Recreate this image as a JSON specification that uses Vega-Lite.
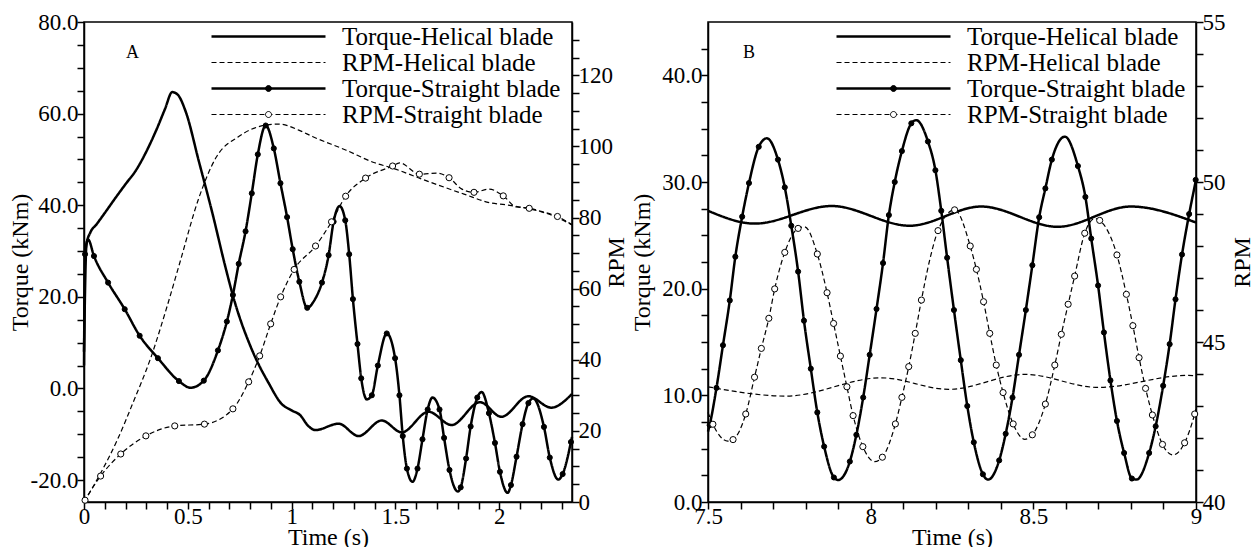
{
"$schema":"https://vega.github.io/schema/vega-lite/v6.json",
"background":"white",
"padding":{"left":7,"top":10,"right":0,"bottom":0},
"datasets":{
"lineA":[
{"t":0,"v":8,"s":"Torque-Helical blade"},{"t":0.012,"v":31.5,"s":"Torque-Helical blade"},{"t":0.03,"v":34,"s":"Torque-Helical blade"},{"t":0.06,"v":35.8,"s":"Torque-Helical blade"},{"t":0.1,"v":38.3,"s":"Torque-Helical blade"},{"t":0.15,"v":41.5,"s":"Torque-Helical blade"},{"t":0.2,"v":44.6,"s":"Torque-Helical blade"},{"t":0.25,"v":47.6,"s":"Torque-Helical blade"},{"t":0.3,"v":51.7,"s":"Torque-Helical blade"},{"t":0.35,"v":56.6,"s":"Torque-Helical blade"},{"t":0.39,"v":61,"s":"Torque-Helical blade"},{"t":0.425,"v":64.7,"s":"Torque-Helical blade"},{"t":0.45,"v":64.2,"s":"Torque-Helical blade"},{"t":0.49,"v":60.4,"s":"Torque-Helical blade"},{"t":0.553,"v":49.6,"s":"Torque-Helical blade"},{"t":0.617,"v":38.5,"s":"Torque-Helical blade"},{"t":0.681,"v":26.5,"s":"Torque-Helical blade"},{"t":0.72,"v":19.8,"s":"Torque-Helical blade"},{"t":0.81,"v":8.3,"s":"Torque-Helical blade"},{"t":0.89,"v":1.1,"s":"Torque-Helical blade"},{"t":0.95,"v":-3.3,"s":"Torque-Helical blade"},{"t":1.0,"v":-4.8,"s":"Torque-Helical blade"},{"t":1.04,"v":-5.8,"s":"Torque-Helical blade"},{"t":1.08,"v":-8.2,"s":"Torque-Helical blade"},{"t":1.114,"v":-9.1,"s":"Torque-Helical blade"},{"t":1.226,"v":-7.7,"s":"Torque-Helical blade"},{"t":1.322,"v":-10.4,"s":"Torque-Helical blade"},{"t":1.434,"v":-7.0,"s":"Torque-Helical blade"},{"t":1.53,"v":-9.6,"s":"Torque-Helical blade"},{"t":1.659,"v":-5.1,"s":"Torque-Helical blade"},{"t":1.77,"v":-8.0,"s":"Torque-Helical blade"},{"t":1.907,"v":-3.0,"s":"Torque-Helical blade"},{"t":2.01,"v":-6.2,"s":"Torque-Helical blade"},{"t":2.14,"v":-1.7,"s":"Torque-Helical blade"},{"t":2.25,"v":-4.2,"s":"Torque-Helical blade"},{"t":2.35,"v":-1.2,"s":"Torque-Helical blade"},
{"t":0,"v":5,"s":"Torque-Straight blade"},{"t":0.005,"v":29.3,"s":"Torque-Straight blade"},{"t":0.02,"v":32.5,"s":"Torque-Straight blade"},{"t":0.048,"v":28.9,"s":"Torque-Straight blade"},{"t":0.116,"v":23.1,"s":"Torque-Straight blade"},{"t":0.196,"v":17.3,"s":"Torque-Straight blade"},{"t":0.268,"v":11.5,"s":"Torque-Straight blade"},{"t":0.356,"v":6.6,"s":"Torque-Straight blade"},{"t":0.457,"v":1.6,"s":"Torque-Straight blade"},{"t":0.513,"v":0.15,"s":"Torque-Straight blade"},{"t":0.577,"v":1.7,"s":"Torque-Straight blade"},{"t":0.645,"v":8.3,"s":"Torque-Straight blade"},{"t":0.688,"v":14.6,"s":"Torque-Straight blade"},{"t":0.717,"v":20.4,"s":"Torque-Straight blade"},{"t":0.745,"v":27.2,"s":"Torque-Straight blade"},{"t":0.778,"v":34.3,"s":"Torque-Straight blade"},{"t":0.808,"v":42.6,"s":"Torque-Straight blade"},{"t":0.837,"v":51.1,"s":"Torque-Straight blade"},{"t":0.875,"v":57.4,"s":"Torque-Straight blade"},{"t":0.914,"v":52.4,"s":"Torque-Straight blade"},{"t":0.946,"v":44.8,"s":"Torque-Straight blade"},{"t":0.978,"v":37.4,"s":"Torque-Straight blade"},{"t":1.005,"v":30.4,"s":"Torque-Straight blade"},{"t":1.037,"v":23.3,"s":"Torque-Straight blade"},{"t":1.075,"v":17.6,"s":"Torque-Straight blade"},{"t":1.11,"v":19.3,"s":"Torque-Straight blade"},{"t":1.146,"v":23.1,"s":"Torque-Straight blade"},{"t":1.178,"v":29.1,"s":"Torque-Straight blade"},{"t":1.202,"v":36.4,"s":"Torque-Straight blade"},{"t":1.231,"v":39.8,"s":"Torque-Straight blade"},{"t":1.258,"v":36.7,"s":"Torque-Straight blade"},{"t":1.277,"v":29.3,"s":"Torque-Straight blade"},{"t":1.295,"v":19.5,"s":"Torque-Straight blade"},{"t":1.317,"v":9.7,"s":"Torque-Straight blade"},{"t":1.335,"v":2.2,"s":"Torque-Straight blade"},{"t":1.362,"v":-2.4,"s":"Torque-Straight blade"},{"t":1.386,"v":-1.5,"s":"Torque-Straight blade"},{"t":1.415,"v":5.0,"s":"Torque-Straight blade"},{"t":1.458,"v":12.0,"s":"Torque-Straight blade"},{"t":1.498,"v":6.6,"s":"Torque-Straight blade"},{"t":1.519,"v":-1.5,"s":"Torque-Straight blade"},{"t":1.535,"v":-10.4,"s":"Torque-Straight blade"},{"t":1.555,"v":-17.5,"s":"Torque-Straight blade"},{"t":1.582,"v":-20.4,"s":"Torque-Straight blade"},{"t":1.606,"v":-17.5,"s":"Torque-Straight blade"},{"t":1.63,"v":-11.1,"s":"Torque-Straight blade"},{"t":1.655,"v":-4.6,"s":"Torque-Straight blade"},{"t":1.678,"v":-2.0,"s":"Torque-Straight blade"},{"t":1.712,"v":-4.6,"s":"Torque-Straight blade"},{"t":1.734,"v":-10.8,"s":"Torque-Straight blade"},{"t":1.76,"v":-17.8,"s":"Torque-Straight blade"},{"t":1.8,"v":-22.5,"s":"Torque-Straight blade"},{"t":1.814,"v":-21.6,"s":"Torque-Straight blade"},{"t":1.84,"v":-15.3,"s":"Torque-Straight blade"},{"t":1.862,"v":-8.3,"s":"Torque-Straight blade"},{"t":1.894,"v":-2.0,"s":"Torque-Straight blade"},{"t":1.915,"v":-0.8,"s":"Torque-Straight blade"},{"t":1.95,"v":-5.4,"s":"Torque-Straight blade"},{"t":1.979,"v":-11.9,"s":"Torque-Straight blade"},{"t":2.003,"v":-18.2,"s":"Torque-Straight blade"},{"t":2.04,"v":-22.8,"s":"Torque-Straight blade"},{"t":2.056,"v":-21.1,"s":"Torque-Straight blade"},{"t":2.083,"v":-14.9,"s":"Torque-Straight blade"},{"t":2.112,"v":-7.8,"s":"Torque-Straight blade"},{"t":2.14,"v":-3.2,"s":"Torque-Straight blade"},{"t":2.163,"v":-2.2,"s":"Torque-Straight blade"},{"t":2.215,"v":-8.4,"s":"Torque-Straight blade"},{"t":2.243,"v":-15.1,"s":"Torque-Straight blade"},{"t":2.284,"v":-19.9,"s":"Torque-Straight blade"},{"t":2.305,"v":-18.7,"s":"Torque-Straight blade"},{"t":2.345,"v":-11.7,"s":"Torque-Straight blade"},{"t":2.35,"v":-10.6,"s":"Torque-Straight blade"},
{"t":0,"v":0,"s":"RPM-Helical blade"},{"t":0.08,"v":8.1,"s":"RPM-Helical blade"},{"t":0.16,"v":17.4,"s":"RPM-Helical blade"},{"t":0.24,"v":28.5,"s":"RPM-Helical blade"},{"t":0.32,"v":40.3,"s":"RPM-Helical blade"},{"t":0.4,"v":55,"s":"RPM-Helical blade"},{"t":0.46,"v":67,"s":"RPM-Helical blade"},{"t":0.553,"v":85.5,"s":"RPM-Helical blade"},{"t":0.635,"v":96.8,"s":"RPM-Helical blade"},{"t":0.745,"v":102.8,"s":"RPM-Helical blade"},{"t":0.875,"v":106,"s":"RPM-Helical blade"},{"t":0.94,"v":106.3,"s":"RPM-Helical blade"},{"t":1.034,"v":104.6,"s":"RPM-Helical blade"},{"t":1.1,"v":102.8,"s":"RPM-Helical blade"},{"t":1.26,"v":99,"s":"RPM-Helical blade"},{"t":1.4,"v":95.4,"s":"RPM-Helical blade"},{"t":1.48,"v":94,"s":"RPM-Helical blade"},{"t":1.66,"v":90.1,"s":"RPM-Helical blade"},{"t":1.83,"v":86.6,"s":"RPM-Helical blade"},{"t":1.96,"v":84.1,"s":"RPM-Helical blade"},{"t":2.03,"v":83.6,"s":"RPM-Helical blade"},{"t":2.125,"v":82.7,"s":"RPM-Helical blade"},{"t":2.28,"v":80.0,"s":"RPM-Helical blade"},{"t":2.35,"v":77.9,"s":"RPM-Helical blade"},
{"t":0,"v":0,"s":"RPM-Straight blade"},{"t":0.005,"v":0.5,"s":"RPM-Straight blade"},{"t":0.08,"v":7.3,"s":"RPM-Straight blade"},{"t":0.177,"v":13.5,"s":"RPM-Straight blade"},{"t":0.298,"v":18.6,"s":"RPM-Straight blade"},{"t":0.437,"v":21.4,"s":"RPM-Straight blade"},{"t":0.58,"v":21.9,"s":"RPM-Straight blade"},{"t":0.717,"v":26.2,"s":"RPM-Straight blade"},{"t":0.793,"v":33.8,"s":"RPM-Straight blade"},{"t":0.846,"v":41.1,"s":"RPM-Straight blade"},{"t":0.899,"v":50.1,"s":"RPM-Straight blade"},{"t":0.947,"v":57.7,"s":"RPM-Straight blade"},{"t":1.012,"v":65.4,"s":"RPM-Straight blade"},{"t":1.115,"v":72,"s":"RPM-Straight blade"},{"t":1.192,"v":78.8,"s":"RPM-Straight blade"},{"t":1.26,"v":86,"s":"RPM-Straight blade"},{"t":1.356,"v":91.1,"s":"RPM-Straight blade"},{"t":1.486,"v":94.5,"s":"RPM-Straight blade"},{"t":1.52,"v":95.4,"s":"RPM-Straight blade"},{"t":1.615,"v":92.2,"s":"RPM-Straight blade"},{"t":1.7,"v":92.5,"s":"RPM-Straight blade"},{"t":1.758,"v":91.2,"s":"RPM-Straight blade"},{"t":1.82,"v":88.0,"s":"RPM-Straight blade"},{"t":1.878,"v":87.1,"s":"RPM-Straight blade"},{"t":1.95,"v":88.0,"s":"RPM-Straight blade"},{"t":2.019,"v":86.1,"s":"RPM-Straight blade"},{"t":2.08,"v":83.0,"s":"RPM-Straight blade"},{"t":2.144,"v":82.6,"s":"RPM-Straight blade"},{"t":2.21,"v":81.6,"s":"RPM-Straight blade"},{"t":2.28,"v":80.3,"s":"RPM-Straight blade"},{"t":2.35,"v":78.0,"s":"RPM-Straight blade"}
],
"markA":[
{"t":0.005,"v":29.3,"m":"Torque-Straight"},{"t":0.048,"v":28.9,"m":"Torque-Straight"},{"t":0.116,"v":23.1,"m":"Torque-Straight"},{"t":0.196,"v":17.3,"m":"Torque-Straight"},{"t":0.268,"v":11.5,"m":"Torque-Straight"},{"t":0.356,"v":6.6,"m":"Torque-Straight"},{"t":0.457,"v":1.6,"m":"Torque-Straight"},{"t":0.577,"v":1.7,"m":"Torque-Straight"},{"t":0.645,"v":8.3,"m":"Torque-Straight"},{"t":0.688,"v":14.6,"m":"Torque-Straight"},{"t":0.717,"v":20.4,"m":"Torque-Straight"},{"t":0.745,"v":27.2,"m":"Torque-Straight"},{"t":0.778,"v":34.3,"m":"Torque-Straight"},{"t":0.808,"v":42.6,"m":"Torque-Straight"},{"t":0.837,"v":51.1,"m":"Torque-Straight"},{"t":0.875,"v":57.4,"m":"Torque-Straight"},{"t":0.914,"v":52.4,"m":"Torque-Straight"},{"t":0.946,"v":44.8,"m":"Torque-Straight"},{"t":0.978,"v":37.4,"m":"Torque-Straight"},{"t":1.005,"v":30.4,"m":"Torque-Straight"},{"t":1.037,"v":23.3,"m":"Torque-Straight"},{"t":1.075,"v":17.6,"m":"Torque-Straight"},{"t":1.146,"v":23.1,"m":"Torque-Straight"},{"t":1.178,"v":29.1,"m":"Torque-Straight"},{"t":1.202,"v":36.4,"m":"Torque-Straight"},{"t":1.258,"v":36.7,"m":"Torque-Straight"},{"t":1.277,"v":29.3,"m":"Torque-Straight"},{"t":1.295,"v":19.5,"m":"Torque-Straight"},{"t":1.317,"v":9.7,"m":"Torque-Straight"},{"t":1.335,"v":2.2,"m":"Torque-Straight"},{"t":1.386,"v":-1.5,"m":"Torque-Straight"},{"t":1.415,"v":5.0,"m":"Torque-Straight"},{"t":1.458,"v":12.0,"m":"Torque-Straight"},{"t":1.498,"v":6.6,"m":"Torque-Straight"},{"t":1.519,"v":-1.5,"m":"Torque-Straight"},{"t":1.535,"v":-10.4,"m":"Torque-Straight"},{"t":1.555,"v":-17.5,"m":"Torque-Straight"},{"t":1.606,"v":-17.5,"m":"Torque-Straight"},{"t":1.63,"v":-11.1,"m":"Torque-Straight"},{"t":1.655,"v":-4.6,"m":"Torque-Straight"},{"t":1.712,"v":-4.6,"m":"Torque-Straight"},{"t":1.734,"v":-10.8,"m":"Torque-Straight"},{"t":1.76,"v":-17.8,"m":"Torque-Straight"},{"t":1.814,"v":-21.6,"m":"Torque-Straight"},{"t":1.84,"v":-15.3,"m":"Torque-Straight"},{"t":1.862,"v":-8.3,"m":"Torque-Straight"},{"t":1.894,"v":-2.0,"m":"Torque-Straight"},{"t":1.95,"v":-5.4,"m":"Torque-Straight"},{"t":1.979,"v":-11.9,"m":"Torque-Straight"},{"t":2.003,"v":-18.2,"m":"Torque-Straight"},{"t":2.056,"v":-21.1,"m":"Torque-Straight"},{"t":2.083,"v":-14.9,"m":"Torque-Straight"},{"t":2.112,"v":-7.8,"m":"Torque-Straight"},{"t":2.14,"v":-3.2,"m":"Torque-Straight"},{"t":2.215,"v":-8.4,"m":"Torque-Straight"},{"t":2.243,"v":-15.1,"m":"Torque-Straight"},{"t":2.305,"v":-18.7,"m":"Torque-Straight"},{"t":2.345,"v":-11.7,"m":"Torque-Straight"},
{"t":0.005,"v":0.5,"m":"RPM-Straight"},{"t":0.08,"v":7.3,"m":"RPM-Straight"},{"t":0.177,"v":13.5,"m":"RPM-Straight"},{"t":0.298,"v":18.6,"m":"RPM-Straight"},{"t":0.437,"v":21.4,"m":"RPM-Straight"},{"t":0.58,"v":21.9,"m":"RPM-Straight"},{"t":0.717,"v":26.2,"m":"RPM-Straight"},{"t":0.793,"v":33.8,"m":"RPM-Straight"},{"t":0.846,"v":41.1,"m":"RPM-Straight"},{"t":0.899,"v":50.1,"m":"RPM-Straight"},{"t":0.947,"v":57.7,"m":"RPM-Straight"},{"t":1.012,"v":65.4,"m":"RPM-Straight"},{"t":1.115,"v":72,"m":"RPM-Straight"},{"t":1.192,"v":78.8,"m":"RPM-Straight"},{"t":1.26,"v":86,"m":"RPM-Straight"},{"t":1.356,"v":91.1,"m":"RPM-Straight"},{"t":1.486,"v":94.5,"m":"RPM-Straight"},{"t":1.615,"v":92.2,"m":"RPM-Straight"},{"t":1.758,"v":91.2,"m":"RPM-Straight"},{"t":1.878,"v":87.1,"m":"RPM-Straight"},{"t":2.019,"v":86.1,"m":"RPM-Straight"},{"t":2.144,"v":82.6,"m":"RPM-Straight"},{"t":2.28,"v":80.3,"m":"RPM-Straight"}
],
"lineB":[
{"t":7.5,"v":27.3,"s":"Torque-Helical blade"},{"t":7.644,"v":26.1,"s":"Torque-Helical blade"},{"t":7.88,"v":27.75,"s":"Torque-Helical blade"},{"t":8.12,"v":25.9,"s":"Torque-Helical blade"},{"t":8.34,"v":27.7,"s":"Torque-Helical blade"},{"t":8.575,"v":25.8,"s":"Torque-Helical blade"},{"t":8.8,"v":27.7,"s":"Torque-Helical blade"},{"t":9.0,"v":26.2,"s":"Torque-Helical blade"},
{"t":7.5,"v":43.6,"s":"RPM-Helical blade"},{"t":7.74,"v":43.31,"s":"RPM-Helical blade"},{"t":8.033,"v":43.88,"s":"RPM-Helical blade"},{"t":8.24,"v":43.52,"s":"RPM-Helical blade"},{"t":8.474,"v":43.99,"s":"RPM-Helical blade"},{"t":8.699,"v":43.58,"s":"RPM-Helical blade"},{"t":8.976,"v":43.96,"s":"RPM-Helical blade"},{"t":9.0,"v":43.94,"s":"RPM-Helical blade"},
{"t":7.5,"v":6.6,"s":"Torque-Straight blade"},{"t":7.505,"v":7.2,"s":"Torque-Straight blade"},{"t":7.526,"v":10.7,"s":"Torque-Straight blade"},{"t":7.546,"v":14.7,"s":"Torque-Straight blade"},{"t":7.567,"v":18.9,"s":"Torque-Straight blade"},{"t":7.584,"v":23.0,"s":"Torque-Straight blade"},{"t":7.605,"v":26.75,"s":"Torque-Straight blade"},{"t":7.626,"v":29.9,"s":"Torque-Straight blade"},{"t":7.656,"v":33.3,"s":"Torque-Straight blade"},{"t":7.681,"v":34.1,"s":"Torque-Straight blade"},{"t":7.715,"v":32.1,"s":"Torque-Straight blade"},{"t":7.736,"v":29.5,"s":"Torque-Straight blade"},{"t":7.756,"v":25.9,"s":"Torque-Straight blade"},{"t":7.777,"v":21.6,"s":"Torque-Straight blade"},{"t":7.795,"v":17.0,"s":"Torque-Straight blade"},{"t":7.816,"v":12.5,"s":"Torque-Straight blade"},{"t":7.836,"v":8.4,"s":"Torque-Straight blade"},{"t":7.857,"v":5.2,"s":"Torque-Straight blade"},{"t":7.887,"v":2.3,"s":"Torque-Straight blade"},{"t":7.9,"v":2.06,"s":"Torque-Straight blade"},{"t":7.936,"v":3.8,"s":"Torque-Straight blade"},{"t":7.956,"v":6.3,"s":"Torque-Straight blade"},{"t":7.977,"v":9.8,"s":"Torque-Straight blade"},{"t":7.997,"v":13.8,"s":"Torque-Straight blade"},{"t":8.018,"v":18.1,"s":"Torque-Straight blade"},{"t":8.038,"v":22.4,"s":"Torque-Straight blade"},{"t":8.056,"v":26.9,"s":"Torque-Straight blade"},{"t":8.074,"v":30.0,"s":"Torque-Straight blade"},{"t":8.096,"v":32.9,"s":"Torque-Straight blade"},{"t":8.125,"v":35.5,"s":"Torque-Straight blade"},{"t":8.14,"v":35.8,"s":"Torque-Straight blade"},{"t":8.176,"v":33.8,"s":"Torque-Straight blade"},{"t":8.199,"v":31.1,"s":"Torque-Straight blade"},{"t":8.217,"v":27.3,"s":"Torque-Straight blade"},{"t":8.235,"v":22.9,"s":"Torque-Straight blade"},{"t":8.256,"v":18.0,"s":"Torque-Straight blade"},{"t":8.277,"v":13.3,"s":"Torque-Straight blade"},{"t":8.297,"v":9.0,"s":"Torque-Straight blade"},{"t":8.317,"v":5.6,"s":"Torque-Straight blade"},{"t":8.345,"v":2.6,"s":"Torque-Straight blade"},{"t":8.361,"v":2.1,"s":"Torque-Straight blade"},{"t":8.395,"v":3.9,"s":"Torque-Straight blade"},{"t":8.415,"v":6.4,"s":"Torque-Straight blade"},{"t":8.436,"v":9.8,"s":"Torque-Straight blade"},{"t":8.456,"v":13.8,"s":"Torque-Straight blade"},{"t":8.477,"v":18.0,"s":"Torque-Straight blade"},{"t":8.497,"v":22.2,"s":"Torque-Straight blade"},{"t":8.518,"v":26.7,"s":"Torque-Straight blade"},{"t":8.537,"v":29.4,"s":"Torque-Straight blade"},{"t":8.557,"v":32.1,"s":"Torque-Straight blade"},{"t":8.597,"v":34.25,"s":"Torque-Straight blade"},{"t":8.637,"v":31.5,"s":"Torque-Straight blade"},{"t":8.66,"v":28.6,"s":"Torque-Straight blade"},{"t":8.678,"v":24.7,"s":"Torque-Straight blade"},{"t":8.699,"v":20.3,"s":"Torque-Straight blade"},{"t":8.717,"v":15.9,"s":"Torque-Straight blade"},{"t":8.737,"v":11.4,"s":"Torque-Straight blade"},{"t":8.757,"v":7.6,"s":"Torque-Straight blade"},{"t":8.779,"v":4.6,"s":"Torque-Straight blade"},{"t":8.803,"v":2.2,"s":"Torque-Straight blade"},{"t":8.817,"v":2.1,"s":"Torque-Straight blade"},{"t":8.856,"v":4.6,"s":"Torque-Straight blade"},{"t":8.876,"v":7.1,"s":"Torque-Straight blade"},{"t":8.899,"v":10.9,"s":"Torque-Straight blade"},{"t":8.919,"v":14.8,"s":"Torque-Straight blade"},{"t":8.937,"v":19.0,"s":"Torque-Straight blade"},{"t":8.957,"v":23.2,"s":"Torque-Straight blade"},{"t":8.979,"v":27.0,"s":"Torque-Straight blade"},{"t":9.0,"v":30.2,"s":"Torque-Straight blade"},
{"t":7.5,"v":42.8,"s":"RPM-Straight blade"},{"t":7.515,"v":42.43,"s":"RPM-Straight blade"},{"t":7.561,"v":41.9,"s":"RPM-Straight blade"},{"t":7.577,"v":41.95,"s":"RPM-Straight blade"},{"t":7.616,"v":42.75,"s":"RPM-Straight blade"},{"t":7.643,"v":43.9,"s":"RPM-Straight blade"},{"t":7.664,"v":44.8,"s":"RPM-Straight blade"},{"t":7.687,"v":45.74,"s":"RPM-Straight blade"},{"t":7.705,"v":46.66,"s":"RPM-Straight blade"},{"t":7.736,"v":47.8,"s":"RPM-Straight blade"},{"t":7.777,"v":48.55,"s":"RPM-Straight blade"},{"t":7.797,"v":48.6,"s":"RPM-Straight blade"},{"t":7.836,"v":47.75,"s":"RPM-Straight blade"},{"t":7.866,"v":46.54,"s":"RPM-Straight blade"},{"t":7.886,"v":45.58,"s":"RPM-Straight blade"},{"t":7.907,"v":44.56,"s":"RPM-Straight blade"},{"t":7.927,"v":43.6,"s":"RPM-Straight blade"},{"t":7.946,"v":42.7,"s":"RPM-Straight blade"},{"t":7.976,"v":41.73,"s":"RPM-Straight blade"},{"t":8.012,"v":41.26,"s":"RPM-Straight blade"},{"t":8.036,"v":41.4,"s":"RPM-Straight blade"},{"t":8.076,"v":42.44,"s":"RPM-Straight blade"},{"t":8.096,"v":43.27,"s":"RPM-Straight blade"},{"t":8.117,"v":44.23,"s":"RPM-Straight blade"},{"t":8.137,"v":45.27,"s":"RPM-Straight blade"},{"t":8.156,"v":46.31,"s":"RPM-Straight blade"},{"t":8.18,"v":47.5,"s":"RPM-Straight blade"},{"t":8.207,"v":48.48,"s":"RPM-Straight blade"},{"t":8.258,"v":49.13,"s":"RPM-Straight blade"},{"t":8.306,"v":48.0,"s":"RPM-Straight blade"},{"t":8.325,"v":47.27,"s":"RPM-Straight blade"},{"t":8.347,"v":46.26,"s":"RPM-Straight blade"},{"t":8.366,"v":45.27,"s":"RPM-Straight blade"},{"t":8.386,"v":44.28,"s":"RPM-Straight blade"},{"t":8.407,"v":43.42,"s":"RPM-Straight blade"},{"t":8.438,"v":42.44,"s":"RPM-Straight blade"},{"t":8.474,"v":41.96,"s":"RPM-Straight blade"},{"t":8.497,"v":42.1,"s":"RPM-Straight blade"},{"t":8.537,"v":43.06,"s":"RPM-Straight blade"},{"t":8.566,"v":44.28,"s":"RPM-Straight blade"},{"t":8.586,"v":45.24,"s":"RPM-Straight blade"},{"t":8.607,"v":46.18,"s":"RPM-Straight blade"},{"t":8.627,"v":47.06,"s":"RPM-Straight blade"},{"t":8.658,"v":48.4,"s":"RPM-Straight blade"},{"t":8.69,"v":48.86,"s":"RPM-Straight blade"},{"t":8.704,"v":48.8,"s":"RPM-Straight blade"},{"t":8.757,"v":47.72,"s":"RPM-Straight blade"},{"t":8.786,"v":46.49,"s":"RPM-Straight blade"},{"t":8.806,"v":45.51,"s":"RPM-Straight blade"},{"t":8.825,"v":44.51,"s":"RPM-Straight blade"},{"t":8.845,"v":43.55,"s":"RPM-Straight blade"},{"t":8.866,"v":42.72,"s":"RPM-Straight blade"},{"t":8.897,"v":41.8,"s":"RPM-Straight blade"},{"t":8.929,"v":41.47,"s":"RPM-Straight blade"},{"t":8.965,"v":41.85,"s":"RPM-Straight blade"},{"t":8.996,"v":42.75,"s":"RPM-Straight blade"},{"t":9.0,"v":42.9,"s":"RPM-Straight blade"}
],
"markB":[
{"t":7.505,"v":7.2,"m":"Torque-Straight"},{"t":7.526,"v":10.7,"m":"Torque-Straight"},{"t":7.546,"v":14.7,"m":"Torque-Straight"},{"t":7.567,"v":18.9,"m":"Torque-Straight"},{"t":7.584,"v":23.0,"m":"Torque-Straight"},{"t":7.605,"v":26.75,"m":"Torque-Straight"},{"t":7.626,"v":29.9,"m":"Torque-Straight"},{"t":7.656,"v":33.3,"m":"Torque-Straight"},{"t":7.715,"v":32.1,"m":"Torque-Straight"},{"t":7.736,"v":29.5,"m":"Torque-Straight"},{"t":7.756,"v":25.9,"m":"Torque-Straight"},{"t":7.777,"v":21.6,"m":"Torque-Straight"},{"t":7.795,"v":17.0,"m":"Torque-Straight"},{"t":7.816,"v":12.5,"m":"Torque-Straight"},{"t":7.836,"v":8.4,"m":"Torque-Straight"},{"t":7.857,"v":5.2,"m":"Torque-Straight"},{"t":7.887,"v":2.3,"m":"Torque-Straight"},{"t":7.936,"v":3.8,"m":"Torque-Straight"},{"t":7.956,"v":6.3,"m":"Torque-Straight"},{"t":7.977,"v":9.8,"m":"Torque-Straight"},{"t":7.997,"v":13.8,"m":"Torque-Straight"},{"t":8.018,"v":18.1,"m":"Torque-Straight"},{"t":8.038,"v":22.4,"m":"Torque-Straight"},{"t":8.056,"v":26.9,"m":"Torque-Straight"},{"t":8.074,"v":30.0,"m":"Torque-Straight"},{"t":8.096,"v":32.9,"m":"Torque-Straight"},{"t":8.125,"v":35.5,"m":"Torque-Straight"},{"t":8.176,"v":33.8,"m":"Torque-Straight"},{"t":8.199,"v":31.1,"m":"Torque-Straight"},{"t":8.217,"v":27.3,"m":"Torque-Straight"},{"t":8.235,"v":22.9,"m":"Torque-Straight"},{"t":8.256,"v":18.0,"m":"Torque-Straight"},{"t":8.277,"v":13.3,"m":"Torque-Straight"},{"t":8.297,"v":9.0,"m":"Torque-Straight"},{"t":8.317,"v":5.6,"m":"Torque-Straight"},{"t":8.345,"v":2.6,"m":"Torque-Straight"},{"t":8.395,"v":3.9,"m":"Torque-Straight"},{"t":8.415,"v":6.4,"m":"Torque-Straight"},{"t":8.436,"v":9.8,"m":"Torque-Straight"},{"t":8.456,"v":13.8,"m":"Torque-Straight"},{"t":8.477,"v":18.0,"m":"Torque-Straight"},{"t":8.497,"v":22.2,"m":"Torque-Straight"},{"t":8.518,"v":26.7,"m":"Torque-Straight"},{"t":8.537,"v":29.4,"m":"Torque-Straight"},{"t":8.557,"v":32.1,"m":"Torque-Straight"},{"t":8.637,"v":31.5,"m":"Torque-Straight"},{"t":8.66,"v":28.6,"m":"Torque-Straight"},{"t":8.678,"v":24.7,"m":"Torque-Straight"},{"t":8.699,"v":20.3,"m":"Torque-Straight"},{"t":8.717,"v":15.9,"m":"Torque-Straight"},{"t":8.737,"v":11.4,"m":"Torque-Straight"},{"t":8.757,"v":7.6,"m":"Torque-Straight"},{"t":8.779,"v":4.6,"m":"Torque-Straight"},{"t":8.803,"v":2.2,"m":"Torque-Straight"},{"t":8.856,"v":4.6,"m":"Torque-Straight"},{"t":8.876,"v":7.1,"m":"Torque-Straight"},{"t":8.899,"v":10.9,"m":"Torque-Straight"},{"t":8.919,"v":14.8,"m":"Torque-Straight"},{"t":8.937,"v":19.0,"m":"Torque-Straight"},{"t":8.957,"v":23.2,"m":"Torque-Straight"},{"t":8.979,"v":27.0,"m":"Torque-Straight"},{"t":8.999,"v":30.2,"m":"Torque-Straight"},
{"t":7.515,"v":42.43,"m":"RPM-Straight"},{"t":7.577,"v":41.95,"m":"RPM-Straight"},{"t":7.616,"v":42.75,"m":"RPM-Straight"},{"t":7.643,"v":43.9,"m":"RPM-Straight"},{"t":7.664,"v":44.8,"m":"RPM-Straight"},{"t":7.687,"v":45.74,"m":"RPM-Straight"},{"t":7.705,"v":46.66,"m":"RPM-Straight"},{"t":7.736,"v":47.8,"m":"RPM-Straight"},{"t":7.777,"v":48.55,"m":"RPM-Straight"},{"t":7.836,"v":47.75,"m":"RPM-Straight"},{"t":7.866,"v":46.54,"m":"RPM-Straight"},{"t":7.886,"v":45.58,"m":"RPM-Straight"},{"t":7.907,"v":44.56,"m":"RPM-Straight"},{"t":7.927,"v":43.6,"m":"RPM-Straight"},{"t":7.946,"v":42.7,"m":"RPM-Straight"},{"t":7.976,"v":41.73,"m":"RPM-Straight"},{"t":8.036,"v":41.4,"m":"RPM-Straight"},{"t":8.076,"v":42.44,"m":"RPM-Straight"},{"t":8.096,"v":43.27,"m":"RPM-Straight"},{"t":8.117,"v":44.23,"m":"RPM-Straight"},{"t":8.137,"v":45.27,"m":"RPM-Straight"},{"t":8.156,"v":46.31,"m":"RPM-Straight"},{"t":8.207,"v":48.48,"m":"RPM-Straight"},{"t":8.258,"v":49.13,"m":"RPM-Straight"},{"t":8.306,"v":48.0,"m":"RPM-Straight"},{"t":8.325,"v":47.27,"m":"RPM-Straight"},{"t":8.347,"v":46.26,"m":"RPM-Straight"},{"t":8.366,"v":45.27,"m":"RPM-Straight"},{"t":8.386,"v":44.28,"m":"RPM-Straight"},{"t":8.407,"v":43.42,"m":"RPM-Straight"},{"t":8.438,"v":42.44,"m":"RPM-Straight"},{"t":8.497,"v":42.1,"m":"RPM-Straight"},{"t":8.537,"v":43.06,"m":"RPM-Straight"},{"t":8.566,"v":44.28,"m":"RPM-Straight"},{"t":8.586,"v":45.24,"m":"RPM-Straight"},{"t":8.607,"v":46.18,"m":"RPM-Straight"},{"t":8.627,"v":47.06,"m":"RPM-Straight"},{"t":8.658,"v":48.4,"m":"RPM-Straight"},{"t":8.704,"v":48.8,"m":"RPM-Straight"},{"t":8.757,"v":47.72,"m":"RPM-Straight"},{"t":8.786,"v":46.49,"m":"RPM-Straight"},{"t":8.806,"v":45.51,"m":"RPM-Straight"},{"t":8.825,"v":44.51,"m":"RPM-Straight"},{"t":8.845,"v":43.55,"m":"RPM-Straight"},{"t":8.866,"v":42.72,"m":"RPM-Straight"},{"t":8.897,"v":41.8,"m":"RPM-Straight"},{"t":8.965,"v":41.85,"m":"RPM-Straight"},{"t":8.996,"v":42.75,"m":"RPM-Straight"}
]
},
"hconcat":[
{
"width":488,"height":480,
"title":{"text":"A","anchor":"start","frame":"group","offset":-51,"dx":42,"fontSize":18,"font":"Liberation Serif","fontWeight":"normal","color":"black"},
"encoding":{"x":{"field":"t","type":"quantitative","title":"Time (s)","scale":{"domain":[0,2.35],"nice":false,"zero":false},
 "axis":{"orient":"bottom","values":[0,0.1,0.2,0.3,0.4,0.5,0.6,0.7,0.8,0.9,1,1.1,1.2,1.3,1.4,1.5,1.6,1.7,1.8,1.9,2,2.1,2.2,2.3],"format":"~g","labelExpr":"abs(datum.value*2-round(datum.value*2))<0.001 ? datum.label : ''","ticks":true,"tickSize":7,"labelPadding":-4,"titlePadding":-3,
 "encode":{"ticks":{"update":{"y2":{"signal":"abs(datum.value*2-round(datum.value*2))<0.001 ? -12 : -7"}}}}}}},
"layer":[
{"encoding":{"y":{"field":"v","type":"quantitative","title":"Torque (kNm)","scale":{"domain":[-24.8,80],"nice":false,"zero":false},
 "axis":{"orient":"left","values":[-20,-15,-10,-5,0,5,10,15,20,25,30,35,40,45,50,55,60,65,70,75,80],"format":".1f","labelExpr":"datum.value % 20 == 0 ? replace(datum.label, '\u2212', '-') : ''","ticks":true,"tickSize":7,"labelPadding":-1,"titlePadding":-2,
 "encode":{"ticks":{"update":{"x2":{"signal":"datum.value % 20 == 0 ? 12 : 7"}}}}}}},
 "layer":[
  {"data":{"name":"lineA"},"transform":[{"filter":"indexof(datum.s,'Torque')==0"}],"mark":{"type":"line","color":"black","interpolate":"monotone"},
   "encoding":{"strokeDash":{"field":"s","type":"nominal","scale":{"domain":["Torque-Helical blade","RPM-Helical blade","Torque-Straight blade","RPM-Straight blade"],"range":[[1,0],[5,3],[1,0],[5,3]]},"legend":{"orient":"none","legendX":125,"legendY":2,"title":null,"symbolType":"M-1,0H10.4","symbolSize":400,"labelFont":"Liberation Serif","labelFontSize":25,"labelColor":"black","labelOffset":108,"rowPadding":0,"padding":0,"labelLimit":400}},
    "strokeWidth":{"field":"s","type":"nominal","scale":{"type":"ordinal","domain":["Torque-Helical blade","RPM-Helical blade","Torque-Straight blade","RPM-Straight blade"],"range":[2.5,1.2,2.5,1.2]},"legend":{"orient":"none","legendX":125,"legendY":2,"title":null,"symbolType":"M-1,0H10.4","symbolSize":400,"labelFont":"Liberation Serif","labelFontSize":25,"labelColor":"black","labelOffset":108,"rowPadding":0,"padding":0,"labelLimit":400}}}},
  {"data":{"name":"markA"},"transform":[{"filter":"datum.m=='Torque-Straight'"}],"mark":{"type":"point","shape":"circle","size":26,"opacity":1,"strokeWidth":1},
   "encoding":{"fill":{"field":"m","type":"nominal","scale":{"domain":["Torque-Helical","RPM-Helical","Torque-Straight","RPM-Straight"],"range":["transparent","transparent","black","white"]},"legend":{"orient":"none","legendX":125,"legendY":2,"title":null,"symbolType":"M5,0A0.3,0.3,0,1,1,4.4,0A0.3,0.3,0,1,1,5,0Z","symbolSize":400,"symbolStrokeWidth":1,"labelFont":"Liberation Serif","labelFontSize":25,"labelExpr":"' '","labelOpacity":0,"labelOffset":90,"rowPadding":0,"padding":0,"labelLimit":400}},
    "stroke":{"field":"m","type":"nominal","scale":{"domain":["Torque-Helical","RPM-Helical","Torque-Straight","RPM-Straight"],"range":["transparent","transparent","black","black"]},"legend":{"orient":"none","legendX":125,"legendY":2,"title":null,"symbolType":"M5,0A0.3,0.3,0,1,1,4.4,0A0.3,0.3,0,1,1,5,0Z","symbolSize":400,"symbolStrokeWidth":1,"labelFont":"Liberation Serif","labelFontSize":25,"labelExpr":"' '","labelOpacity":0,"labelOffset":90,"rowPadding":0,"padding":0,"labelLimit":400}}}}
 ]},
{"encoding":{"y":{"field":"v","type":"quantitative","title":"RPM","scale":{"domain":[0,135],"nice":false,"zero":false},
 "axis":{"orient":"right","values":[0,5,10,15,20,25,30,35,40,45,50,55,60,65,70,75,80,85,90,95,100,105,110,115,120,125,130],"format":"d","labelExpr":"datum.value % 20 == 0 ? datum.label : ''","ticks":true,"tickSize":7,"labelPadding":-1,"titlePadding":-8,"titleAngle":270,"titleBaseline":"top",
 "encode":{"ticks":{"update":{"x2":{"signal":"datum.value % 20 == 0 ? -12 : -7"}}}}}}},
 "layer":[
  {"data":{"name":"lineA"},"transform":[{"filter":"indexof(datum.s,'RPM')==0"}],"mark":{"type":"line","color":"black","interpolate":"monotone"},
   "encoding":{"strokeDash":{"field":"s","type":"nominal","scale":{"domain":["Torque-Helical blade","RPM-Helical blade","Torque-Straight blade","RPM-Straight blade"],"range":[[1,0],[5,3],[1,0],[5,3]]},"legend":{"orient":"none","legendX":125,"legendY":2,"title":null,"symbolType":"M-1,0H10.4","symbolSize":400,"labelFont":"Liberation Serif","labelFontSize":25,"labelColor":"black","labelOffset":108,"rowPadding":0,"padding":0,"labelLimit":400}},
    "strokeWidth":{"field":"s","type":"nominal","scale":{"type":"ordinal","domain":["Torque-Helical blade","RPM-Helical blade","Torque-Straight blade","RPM-Straight blade"],"range":[2.5,1.2,2.5,1.2]},"legend":{"orient":"none","legendX":125,"legendY":2,"title":null,"symbolType":"M-1,0H10.4","symbolSize":400,"labelFont":"Liberation Serif","labelFontSize":25,"labelColor":"black","labelOffset":108,"rowPadding":0,"padding":0,"labelLimit":400}}}},
  {"data":{"name":"markA"},"transform":[{"filter":"datum.m=='RPM-Straight'"}],"mark":{"type":"point","shape":"circle","size":38,"opacity":1,"strokeWidth":1},
   "encoding":{"fill":{"field":"m","type":"nominal","scale":{"domain":["Torque-Helical","RPM-Helical","Torque-Straight","RPM-Straight"],"range":["transparent","transparent","black","white"]},"legend":{"orient":"none","legendX":125,"legendY":2,"title":null,"symbolType":"M5,0A0.3,0.3,0,1,1,4.4,0A0.3,0.3,0,1,1,5,0Z","symbolSize":400,"symbolStrokeWidth":1,"labelFont":"Liberation Serif","labelFontSize":25,"labelExpr":"' '","labelOpacity":0,"labelOffset":90,"rowPadding":0,"padding":0,"labelLimit":400}},
    "stroke":{"field":"m","type":"nominal","scale":{"domain":["Torque-Helical","RPM-Helical","Torque-Straight","RPM-Straight"],"range":["transparent","transparent","black","black"]},"legend":{"orient":"none","legendX":125,"legendY":2,"title":null,"symbolType":"M5,0A0.3,0.3,0,1,1,4.4,0A0.3,0.3,0,1,1,5,0Z","symbolSize":400,"symbolStrokeWidth":1,"labelFont":"Liberation Serif","labelFontSize":25,"labelExpr":"' '","labelOpacity":0,"labelOffset":90,"rowPadding":0,"padding":0,"labelLimit":400}}}}
 ]}
],
"resolve":{"scale":{"y":"independent"}}
},
{
"width":488,"height":480,
"title":{"text":"B","anchor":"start","frame":"group","offset":-51,"dx":35,"fontSize":18,"font":"Liberation Serif","fontWeight":"normal","color":"black"},
"encoding":{"x":{"field":"t","type":"quantitative","title":"Time (s)","scale":{"domain":[7.5,9],"nice":false,"zero":false},
 "axis":{"orient":"bottom","values":[7.5,7.6,7.7,7.8,7.9,8,8.1,8.2,8.3,8.4,8.5,8.6,8.7,8.8,8.9,9],"format":"~g","labelExpr":"abs(datum.value*2-round(datum.value*2))<0.001 ? datum.label : ''","ticks":true,"tickSize":7,"labelPadding":-4,"titlePadding":-3,
 "encode":{"ticks":{"update":{"y2":{"signal":"abs(datum.value*2-round(datum.value*2))<0.001 ? -12 : -7"}}}}}}},
"layer":[
{"encoding":{"y":{"field":"v","type":"quantitative","title":"Torque (kNm)","scale":{"domain":[0,45],"nice":false,"zero":false},
 "axis":{"orient":"left","values":[0,2.5,5,7.5,10,12.5,15,17.5,20,22.5,25,27.5,30,32.5,35,37.5,40,42.5],"format":".1f","labelExpr":"datum.value % 10 == 0 ? datum.label : ''","ticks":true,"tickSize":7,"labelPadding":-1,"titlePadding":7,
 "encode":{"ticks":{"update":{"x2":{"signal":"datum.value % 10 == 0 ? 12 : 7"}}}}}}},
 "layer":[
  {"data":{"name":"lineB"},"transform":[{"filter":"indexof(datum.s,'Torque')==0"}],"mark":{"type":"line","color":"black","interpolate":"monotone"},
   "encoding":{"strokeDash":{"field":"s","type":"nominal","scale":{"domain":["Torque-Helical blade","RPM-Helical blade","Torque-Straight blade","RPM-Straight blade"],"range":[[1,0],[5,3],[1,0],[5,3]]},"legend":{"orient":"none","legendX":126,"legendY":2,"title":null,"symbolType":"M-1,0H10.4","symbolSize":400,"labelFont":"Liberation Serif","labelFontSize":25,"labelColor":"black","labelOffset":108,"rowPadding":0,"padding":0,"labelLimit":400}},
    "strokeWidth":{"field":"s","type":"nominal","scale":{"type":"ordinal","domain":["Torque-Helical blade","RPM-Helical blade","Torque-Straight blade","RPM-Straight blade"],"range":[2.5,1.2,2.5,1.2]},"legend":{"orient":"none","legendX":126,"legendY":2,"title":null,"symbolType":"M-1,0H10.4","symbolSize":400,"labelFont":"Liberation Serif","labelFontSize":25,"labelColor":"black","labelOffset":108,"rowPadding":0,"padding":0,"labelLimit":400}}}},
  {"data":{"name":"markB"},"transform":[{"filter":"datum.m=='Torque-Straight'"}],"mark":{"type":"point","shape":"circle","size":26,"opacity":1,"strokeWidth":1},
   "encoding":{"fill":{"field":"m","type":"nominal","scale":{"domain":["Torque-Helical","RPM-Helical","Torque-Straight","RPM-Straight"],"range":["transparent","transparent","black","white"]},"legend":{"orient":"none","legendX":126,"legendY":2,"title":null,"symbolType":"M5,0A0.3,0.3,0,1,1,4.4,0A0.3,0.3,0,1,1,5,0Z","symbolSize":400,"symbolStrokeWidth":1,"labelFont":"Liberation Serif","labelFontSize":25,"labelExpr":"' '","labelOpacity":0,"labelOffset":90,"rowPadding":0,"padding":0,"labelLimit":400}},
    "stroke":{"field":"m","type":"nominal","scale":{"domain":["Torque-Helical","RPM-Helical","Torque-Straight","RPM-Straight"],"range":["transparent","transparent","black","black"]},"legend":{"orient":"none","legendX":126,"legendY":2,"title":null,"symbolType":"M5,0A0.3,0.3,0,1,1,4.4,0A0.3,0.3,0,1,1,5,0Z","symbolSize":400,"symbolStrokeWidth":1,"labelFont":"Liberation Serif","labelFontSize":25,"labelExpr":"' '","labelOpacity":0,"labelOffset":90,"rowPadding":0,"padding":0,"labelLimit":400}}}}
 ]},
{"encoding":{"y":{"field":"v","type":"quantitative","title":"RPM","scale":{"domain":[40,55],"nice":false,"zero":false},
 "axis":{"orient":"right","values":[40,41,42,43,44,45,46,47,48,49,50,51,52,53,54,55],"format":"d","labelExpr":"datum.value % 5 == 0 ? datum.label : ''","ticks":true,"tickSize":7,"labelPadding":-1,"titlePadding":5,"titleAngle":270,"titleBaseline":"top",
 "encode":{"ticks":{"update":{"x2":{"signal":"datum.value % 5 == 0 ? -12 : -7"}}}}}}},
 "layer":[
  {"data":{"name":"lineB"},"transform":[{"filter":"indexof(datum.s,'RPM')==0"}],"mark":{"type":"line","color":"black","interpolate":"monotone"},
   "encoding":{"strokeDash":{"field":"s","type":"nominal","scale":{"domain":["Torque-Helical blade","RPM-Helical blade","Torque-Straight blade","RPM-Straight blade"],"range":[[1,0],[5,3],[1,0],[5,3]]},"legend":{"orient":"none","legendX":126,"legendY":2,"title":null,"symbolType":"M-1,0H10.4","symbolSize":400,"labelFont":"Liberation Serif","labelFontSize":25,"labelColor":"black","labelOffset":108,"rowPadding":0,"padding":0,"labelLimit":400}},
    "strokeWidth":{"field":"s","type":"nominal","scale":{"type":"ordinal","domain":["Torque-Helical blade","RPM-Helical blade","Torque-Straight blade","RPM-Straight blade"],"range":[2.5,1.2,2.5,1.2]},"legend":{"orient":"none","legendX":126,"legendY":2,"title":null,"symbolType":"M-1,0H10.4","symbolSize":400,"labelFont":"Liberation Serif","labelFontSize":25,"labelColor":"black","labelOffset":108,"rowPadding":0,"padding":0,"labelLimit":400}}}},
  {"data":{"name":"markB"},"transform":[{"filter":"datum.m=='RPM-Straight'"}],"mark":{"type":"point","shape":"circle","size":38,"opacity":1,"strokeWidth":1},
   "encoding":{"fill":{"field":"m","type":"nominal","scale":{"domain":["Torque-Helical","RPM-Helical","Torque-Straight","RPM-Straight"],"range":["transparent","transparent","black","white"]},"legend":{"orient":"none","legendX":126,"legendY":2,"title":null,"symbolType":"M5,0A0.3,0.3,0,1,1,4.4,0A0.3,0.3,0,1,1,5,0Z","symbolSize":400,"symbolStrokeWidth":1,"labelFont":"Liberation Serif","labelFontSize":25,"labelExpr":"' '","labelOpacity":0,"labelOffset":90,"rowPadding":0,"padding":0,"labelLimit":400}},
    "stroke":{"field":"m","type":"nominal","scale":{"domain":["Torque-Helical","RPM-Helical","Torque-Straight","RPM-Straight"],"range":["transparent","transparent","black","black"]},"legend":{"orient":"none","legendX":126,"legendY":2,"title":null,"symbolType":"M5,0A0.3,0.3,0,1,1,4.4,0A0.3,0.3,0,1,1,5,0Z","symbolSize":400,"symbolStrokeWidth":1,"labelFont":"Liberation Serif","labelFontSize":25,"labelExpr":"' '","labelOpacity":0,"labelOffset":90,"rowPadding":0,"padding":0,"labelLimit":400}}}}
 ]}
],
"resolve":{"scale":{"y":"independent"}}
}
],
"spacing":0,
"resolve":{"scale":{"strokeDash":"independent","strokeWidth":"independent","fill":"independent","stroke":"independent"}},
"config":{
"font":"Liberation Serif",
"view":{"stroke":"black","strokeWidth":1.5},
"axis":{"labelFont":"Liberation Serif","labelFontSize":23,"titleFont":"Liberation Serif","titleFontSize":24,"titleFontWeight":"normal","labelColor":"black","titleColor":"black","domainColor":"black","domainWidth":1.5,"tickColor":"black","tickWidth":1.5,"grid":false,"labelOverlap":false,"labelFlush":false}
}
}
